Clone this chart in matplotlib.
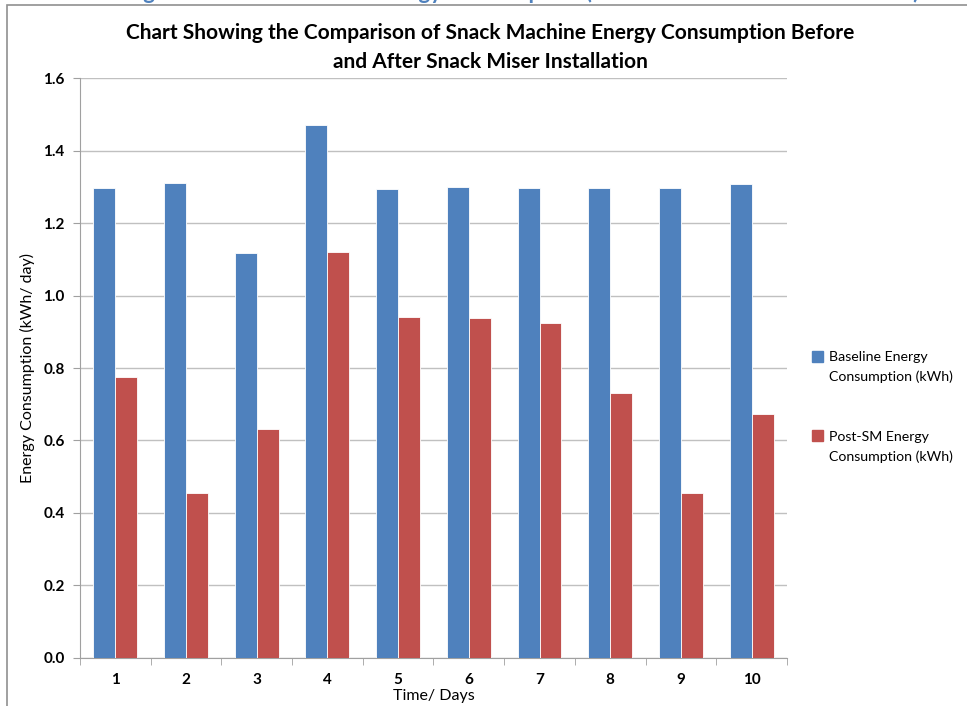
import matplotlib.pyplot as plt
import numpy as np
from matplotlib.patches import Rectangle, Patch

days = ['1', '2', '3', '4', '5', '6', '7', '8', '9', '10']
baseline = [1.297, 1.310, 1.116, 1.470, 1.293, 1.298, 1.297, 1.297, 1.297, 1.307]
post_sm = [0.775, 0.455, 0.632, 1.120, 0.941, 0.938, 0.923, 0.731, 0.456, 0.672]

plt.rcParams['font.family'] = ['Lato', 'DejaVu Sans']

blue = '#4F81BD'
red = '#C0504D'

fig = plt.figure(figsize=(9.67, 7.06), dpi=100)
ax = fig.add_axes([0.0827, 0.068, 0.7311, 0.8215])

x = np.arange(len(days))
w = 0.31
ax.bar(x - w / 2, baseline, w, color=blue, edgecolor='white', linewidth=0.6, zorder=3)
ax.bar(x + w / 2, post_sm, w, color=red, edgecolor='white', linewidth=0.6, zorder=3)

ax.set_xlim(-0.5, len(days) - 0.5)
ax.set_ylim(0, 1.6)
yt = np.arange(0, 1.61, 0.2)
ax.set_yticks(yt)
ax.set_yticklabels([f'{v:.1f}' for v in yt], fontsize=11, fontweight='bold')
ax.set_xticks(x)
ax.set_xticklabels(days, fontsize=11, fontweight='bold')
ax.tick_params(axis='x', length=0, pad=11)
ax.set_xticks(np.arange(-0.5, len(days)), minor=True)
ax.tick_params(axis='x', which='minor', length=5, color='#a0a0a0')
ax.tick_params(axis='y', length=5, color='#a0a0a0', pad=6)

ax.grid(axis='y', color='#c0c0c0', linewidth=1, zorder=0)
for s in ['top', 'right']:
    ax.spines[s].set_visible(False)
for s in ['left', 'bottom']:
    ax.spines[s].set_color('#a0a0a0')

ax.set_ylabel('Energy Consumption (kWh/ day)', fontsize=11.5, labelpad=6)
ax.set_xlabel('Time/ Days', fontsize=11.5, labelpad=1)

fig.text(0.507, 0.933, 'Chart Showing the Comparison of Snack Machine Energy Consumption Before\nand After Snack Miser Installation',
         ha='center', va='center', fontsize=15, fontweight='bold', linespacing=1.6)

# caption of the page, cut off at the top edge like in the source
fig.text(0.54, 1.011, 'Figure 4: Snack Machine Energy Consumption (Before and After SM Installation)',
         ha='center', va='center', fontsize=16, fontweight='bold', color=blue)

# legend: square beside the first line of each two-line entry
empty = Patch(facecolor='none', edgecolor='none')
handles = [Patch(color=blue), empty, empty, empty, Patch(color=red), empty]
labels = ['Baseline Energy', 'Consumption (kWh)', ' ', ' ', 'Post-SM Energy', 'Consumption (kWh)']
ax.legend(handles, labels, loc='center left', bbox_to_anchor=(1.017, 0.433), frameon=False,
          fontsize=10.2, handlelength=0.8, handleheight=0.8, handletextpad=0.4,
          labelspacing=0.53)

fig.patches.append(Rectangle((7 / 967, -0.05), 1.1, 1 - 5 / 706 + 0.05, transform=fig.transFigure,
                             fill=False, edgecolor='#909090', linewidth=1.2))

plt.savefig('out.png', dpi=100)
